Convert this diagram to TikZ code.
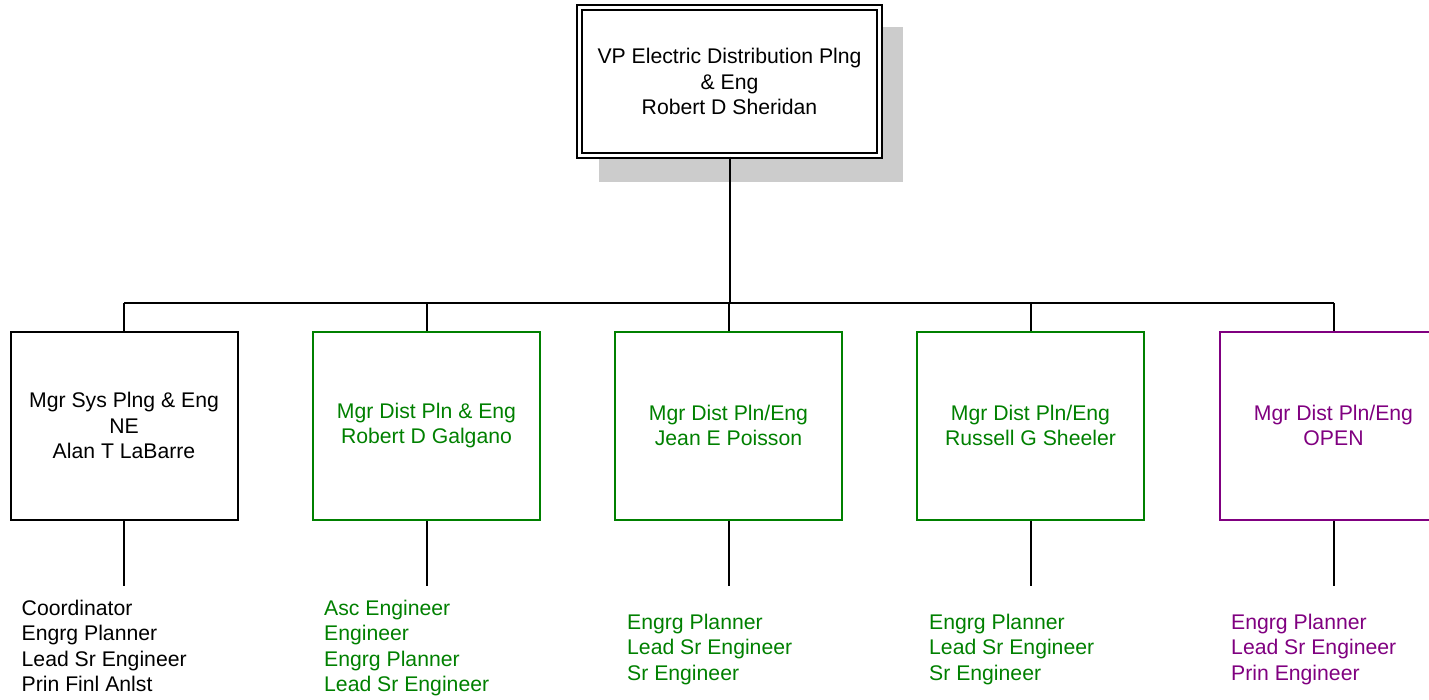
\documentclass[tikz,border=0pt]{standalone}
\usepackage{fontspec}
\setmainfont{Liberation Sans}
\usetikzlibrary{backgrounds}
\definecolor{grn}{RGB}{0,128,0}
\definecolor{prp}{RGB}{128,0,128}
\definecolor{shd}{RGB}{204,204,204}
\begin{document}
\begin{tikzpicture}[x=1pt,y=-1pt,
  txt/.style={font=\fontsize{21.2}{25.5}\selectfont},
  mgr/.style={txt, draw, line width=2pt, minimum width=227pt, minimum height=188pt, align=center, inner sep=0pt},
  vpbox/.style={txt, draw, line width=2pt, double, double distance=3pt, minimum width=300pt, minimum height=148pt, align=center, inner sep=0pt, fill=white},
  conn/.style={line width=2pt},
  staff/.style={txt, align=left, anchor=north west, inner sep=0pt}]
\path[use as bounding box, clip] (0,0) rectangle (1429,699);

\node[vpbox] (vp) at (729.5,81.5) {VP Electric Distribution Plng\\ \& Eng\\ Robert D Sheridan};
\begin{scope}[on background layer]
\fill[shd] ([shift={(20.5,20.5)}]vp.north west) rectangle ([shift={(22,25)}]vp.south east);
\end{scope}

\node[mgr] (m1) at (124,425.5) {Mgr Sys Plng \& Eng\\ NE\\ Alan T LaBarre};
\node[mgr, draw=grn, text=grn] (m2) at (426.5,425.5) {Mgr Dist Pln \& Eng\\ Robert D Galgano};
\node[mgr, draw=grn, text=grn] (m3) at (728.5,425.5) {Mgr Dist Pln/Eng\\ Jean E Poisson};
\node[mgr, draw=grn, text=grn] (m4) at (1030.5,425.5) {Mgr Dist Pln/Eng\\ Russell G Sheeler};
\node[mgr, draw=prp, text=prp] (m5) at (1333.5,425.5) {Mgr Dist Pln/Eng\\ OPEN};

\coordinate (bus) at (729,303);
\draw[conn] (vp.south) -- (vp.south |- bus);
\draw[conn] (m1.north |- bus) -- (m5.north |- bus);
\foreach \i in {1,...,5}{
  \draw[conn] (m\i.north) -- (m\i.north |- bus);
  \coordinate (e\i) at ([yshift=-65pt]m\i.south);
  \draw[conn] (m\i.south) -- (e\i);
}

\node[staff] (s1) at (21.5,599.5) {Coordinator\\ Engrg Planner\\ Lead Sr Engineer\\ Prin Finl Anlst};
\node[staff, text=grn] (s2) at (324,599.5) {Asc Engineer\\ Engineer\\ Engrg Planner\\ Lead Sr Engineer};
\node[staff, text=grn] (s3) at (627,613.5) {Engrg Planner\\ Lead Sr Engineer\\ Sr Engineer};
\node[staff, text=grn] (s4) at (929,613.5) {Engrg Planner\\ Lead Sr Engineer\\ Sr Engineer};
\node[staff, text=prp] (s5) at (1231,613.5) {Engrg Planner\\ Lead Sr Engineer\\ Prin Engineer};
\end{tikzpicture}
\end{document}
